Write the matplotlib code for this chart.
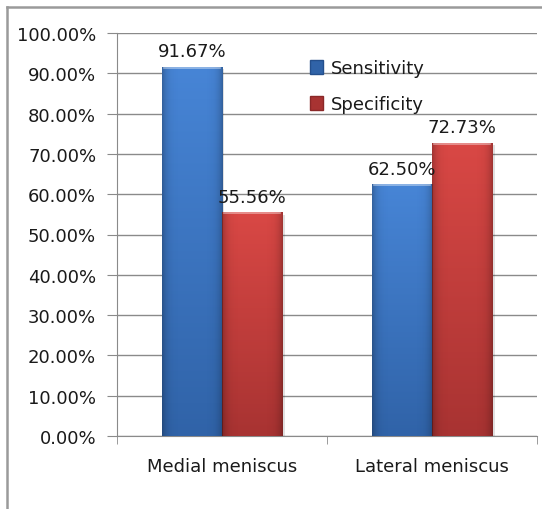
import matplotlib
matplotlib.use("Agg")
import matplotlib.pyplot as plt
import numpy as np
from matplotlib.colors import LinearSegmentedColormap
from matplotlib.lines import Line2D
from matplotlib.ticker import FuncFormatter, MultipleLocator

plt.rcParams["font.family"] = ["DejaVu Sans"]

categories = ["Medial meniscus", "Lateral meniscus"]
series_names = ["Sensitivity", "Specificity"]
sensitivity = [91.67, 62.50]
specificity = [55.56, 72.73]

BLUE = ("#4785d6", "#3063a8")
RED = ("#d94845", "#a83332")
GRID = "#8a8a8a"
TEXT = "#1a1a1a"
FS = 13

fig = plt.figure(figsize=(5.42, 5.10), dpi=100)
ax = fig.add_axes([117 / 542, 73 / 510, 420 / 542, 403 / 510])

x = np.arange(len(categories))
width = 0.288


def gradient_bars(xs, values, colors, label):
    bars = ax.bar(xs, values, width=width, color=colors[1], label=label,
                  edgecolor="none", zorder=3)
    cmap = LinearSegmentedColormap.from_list("g", [colors[0], colors[1]])
    grad = np.linspace(0, 1, 256).reshape(-1, 1)
    for b in bars:
        x0, y0 = b.get_x(), b.get_y()
        w, h = b.get_width(), b.get_height()
        # soft drop shadow
        ax.add_patch(plt.Rectangle((x0 + 0.01, y0 - 0.6), w, h, color="#000000",
                                   alpha=0.12, zorder=2, lw=0))
        im = ax.imshow(grad, cmap=cmap, aspect="auto", extent=(x0, x0 + w, y0, y0 + h),
                       origin="upper", zorder=3.5, interpolation="bilinear")
        im.set_clip_path(b)
        # darker edges for the bevel look
        hgrad = np.abs(np.linspace(-1, 1, 64)).reshape(1, -1) ** 6
        rgba = np.zeros((1, 64, 4))
        rgba[..., 3] = hgrad * 0.25
        im2 = ax.imshow(rgba, aspect="auto", extent=(x0, x0 + w, y0, y0 + h),
                        zorder=3.6, interpolation="bilinear")
        im2.set_clip_path(b)
        ax.plot([x0 + w * 0.04, x0 + w * 0.96], [y0 + h - 0.3, y0 + h - 0.3],
                color="white", alpha=0.45, lw=1.2, zorder=3.7)
        ax.text(x0 + w / 2, y0 + h + 1.6, f"{h:.2f}%", ha="center", va="bottom",
                fontsize=FS, color=TEXT, zorder=4)
    return bars


b1 = gradient_bars(x - width / 2, sensitivity, BLUE, series_names[0])
b2 = gradient_bars(x + width / 2, specificity, RED, series_names[1])

ax.set_xlim(-0.5, 1.5)
ax.set_ylim(0, 100)
ax.yaxis.set_major_locator(MultipleLocator(10))
ax.yaxis.set_major_formatter(FuncFormatter(lambda v, p: f"{v:.2f}%"))
ax.set_xticks(x)
ax.set_xticklabels(categories)
ax.set_xticks([-0.5, 0.5, 1.5], minor=True)
ax.tick_params(axis="x", which="major", length=0, pad=15, labelsize=FS, labelcolor=TEXT)
ax.tick_params(axis="x", which="minor", length=6, color=GRID, direction="out")
ax.tick_params(axis="y", length=7, color=GRID, pad=8, labelsize=FS, labelcolor=TEXT)
ax.grid(axis="y", color=GRID, lw=1.0, zorder=0)
ax.set_axisbelow(True)
for s in ["top", "right"]:
    ax.spines[s].set_visible(False)
for s in ["left", "bottom"]:
    ax.spines[s].set_color(GRID)
ax.set_facecolor("none")

handles = [plt.Rectangle((0, 0), 1, 1, fc=BLUE[1], ec="#244f8c"),
           plt.Rectangle((0, 0), 1, 1, fc=RED[1], ec="#8a2828")]
leg = ax.legend(handles, series_names, loc="upper left", bbox_to_anchor=(0.42, 0.975),
                frameon=False, fontsize=FS, handlelength=0.75, handleheight=0.75,
                handletextpad=0.4, labelspacing=1.0)
for t in leg.get_texts():
    t.set_color(TEXT)

# outer chart border (only top and left visible)
fig.add_artist(Line2D([7 / 542, 7 / 542], [0, 1 - 8 / 510], transform=fig.transFigure,
                      color="#9a9a9a", lw=1.8))
fig.add_artist(Line2D([7 / 542, 1], [1 - 8 / 510, 1 - 8 / 510], transform=fig.transFigure,
                      color="#9a9a9a", lw=1.8))

fig.savefig("out.png", dpi=100)
